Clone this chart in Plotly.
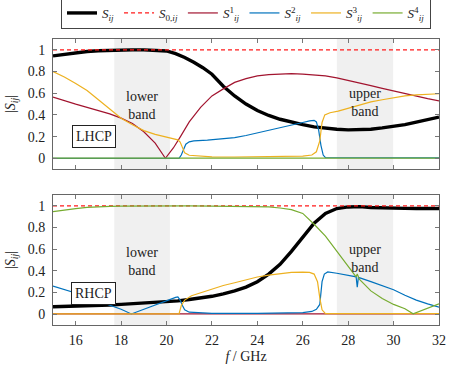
import plotly.graph_objects as go

# ---- LHCP (top panel) ----
f_lh = [15, 15.5, 16, 16.5, 17, 17.5, 18, 18.5, 19, 19.5, 20, 20.4, 20.8, 21.2, 21.6, 22, 22.5, 23, 23.5,
        24, 24.5, 25, 25.5, 26, 26.5, 27, 27.5, 28, 28.5, 29, 29.5, 30, 30.5, 31, 31.5, 32]
s_lh = [0.944, 0.96, 0.975, 0.985, 0.992, 0.997, 1.0, 1.0, 1.0, 0.998, 0.99, 0.965, 0.93, 0.885, 0.835, 0.775,
        0.665, 0.575, 0.5, 0.44, 0.395, 0.36, 0.333, 0.31, 0.29, 0.277, 0.268, 0.262, 0.262, 0.268, 0.28,
        0.295, 0.31, 0.333, 0.355, 0.38]

f1_lh = [15, 15.5, 16, 16.5, 17, 17.5, 18, 18.5, 19, 19.5, 19.95, 20.3, 20.6, 21, 21.5, 22, 22.5, 23, 23.5,
         24, 24.5, 25, 25.5, 26, 26.5, 27, 27.5, 28, 28.5, 29, 29.5, 30, 30.5, 31, 31.5, 32]
s1_lh = [0.565, 0.53, 0.5, 0.47, 0.44, 0.41, 0.37, 0.32, 0.245, 0.14, 0.0, 0.095, 0.195, 0.335, 0.47, 0.575,
         0.64, 0.7, 0.735, 0.76, 0.772, 0.778, 0.78, 0.777, 0.77, 0.76, 0.742, 0.72, 0.695, 0.67, 0.645,
         0.62, 0.6, 0.575, 0.55, 0.53]

f2_lh = [15, 20.55, 20.65, 20.75, 20.85, 21.0, 21.2, 21.8, 22.5, 23, 23.5, 24, 24.5, 25, 25.5, 26, 26.3,
         26.5, 26.6, 26.7, 26.8, 26.9, 27.0, 32]
s2_lh = [0.0, 0.0, 0.03, 0.09, 0.13, 0.152, 0.16, 0.167, 0.178, 0.19, 0.21, 0.233, 0.255, 0.28, 0.305, 0.33,
         0.345, 0.35, 0.335, 0.26, 0.12, 0.03, 0.005, 0.003]

f3_lh = [15, 15.5, 16, 16.5, 17, 17.5, 18, 18.5, 19, 19.5, 20, 20.3, 20.5, 20.6, 20.7, 20.8, 21.0, 21.5, 22,
         23, 24, 25, 26, 26.4, 26.6, 26.75, 26.85, 26.97, 27.2, 27.56, 28, 28.5, 29, 29.5, 30, 30.5, 31,
         31.5, 32]
s3_lh = [0.8, 0.75, 0.69, 0.625, 0.54, 0.455, 0.37, 0.31, 0.255, 0.22, 0.195, 0.18, 0.17, 0.15, 0.09, 0.05,
         0.028, 0.017, 0.013, 0.012, 0.013, 0.015, 0.02, 0.03, 0.06, 0.16, 0.33, 0.4, 0.42, 0.435, 0.46,
         0.49, 0.52, 0.54, 0.56, 0.575, 0.585, 0.59, 0.595]

f4_lh = [15, 32]
s4_lh = [0.002, 0.002]

# ---- RHCP (bottom panel) ----
f_rh = [15, 15.5, 16, 16.5, 17, 17.5, 18, 18.5, 19, 19.5, 20, 20.5, 21, 21.5, 22, 22.5, 23, 23.5, 24, 24.5,
        25, 25.5, 26, 26.5, 27, 27.5, 28, 28.5, 29, 29.5, 30, 30.5, 31, 31.5, 32]
s_rh = [0.068, 0.07, 0.072, 0.076, 0.08, 0.085, 0.09, 0.095, 0.1, 0.107, 0.115, 0.123, 0.135, 0.15, 0.165,
        0.188, 0.215, 0.25, 0.3, 0.37, 0.46, 0.58, 0.71, 0.84, 0.93, 0.975, 0.99, 0.993, 0.985, 0.98, 0.978,
        0.977, 0.976, 0.975, 0.975]

f1_rh = [15, 32]
s1_rh = [0.002, 0.002]

f2_rh = [15, 15.5, 16, 16.5, 17, 17.5, 18, 18.45, 19, 19.5, 20, 20.4, 20.5, 20.6, 20.7, 20.8, 21.0, 21.5,
         22, 24, 25, 26, 26.4, 26.6, 26.75, 26.85, 26.95, 27.1, 27.5, 28, 28.35, 28.4, 28.45, 29, 29.5, 30,
         30.5, 31, 31.5, 32]
s2_rh = [0.26, 0.23, 0.2, 0.163, 0.12, 0.085, 0.045, 0.002, 0.045, 0.09, 0.125, 0.155, 0.16, 0.13, 0.08,
         0.04, 0.018, 0.01, 0.008, 0.008, 0.01, 0.015, 0.025, 0.045, 0.09, 0.3, 0.37, 0.39, 0.378, 0.36,
         0.345, 0.25, 0.34, 0.3, 0.265, 0.225, 0.175, 0.13, 0.095, 0.065]

f3_rh = [15, 20.55, 20.65, 20.8, 21.1, 21.5, 22, 22.5, 23, 23.5, 24, 24.5, 25, 25.5, 26, 26.3, 26.5, 26.65,
         26.75, 26.85, 27.0, 32]
s3_rh = [0.002, 0.002, 0.08, 0.13, 0.17, 0.197, 0.232, 0.265, 0.29, 0.318, 0.343, 0.36, 0.375, 0.385, 0.388,
         0.385, 0.37, 0.3, 0.15, 0.04, 0.005, 0.005]

f4_rh = [15, 15.5, 16, 16.5, 17, 17.5, 18, 19, 20, 21, 22, 23, 24, 24.5, 25, 25.5, 26, 26.5, 27, 27.5, 28,
         28.35, 28.4, 28.45, 28.5, 29, 29.5, 30, 30.5, 30.86, 31.2, 31.5, 32]
s4_rh = [0.947, 0.963, 0.975, 0.985, 0.992, 0.996, 0.998, 1.0, 1.0, 0.999, 0.998, 0.997, 0.995, 0.99, 0.98,
         0.965, 0.93, 0.83, 0.72, 0.58, 0.44, 0.345, 0.37, 0.335, 0.32, 0.215, 0.145, 0.09, 0.05, 0.003,
         0.03, 0.055, 0.095]

bands = [(17.7, 20.15), (27.5, 29.98)]

FONT = "Liberation Serif"
TXT = "#222"
C1 = "#a2142f"
C2 = "#0072bd"
C3 = "#edb120"
C4 = "#77ac30"

fig = go.Figure()

def add_panel(xa, ya, f, s, f1, s1, f2, s2, f3, s3, f4, s4, show):
    fig.add_trace(go.Scatter(x=f, y=s, mode="lines", line=dict(color="black", width=3.4),
                             name="<i>S</i><sub><i>ij</i></sub>", showlegend=show, xaxis=xa, yaxis=ya))
    fig.add_trace(go.Scatter(x=[15, 32], y=[1, 1], mode="lines",
                             line=dict(color="#ff1a1a", width=1.3, dash="4px,3px"),
                             name="<i>S</i><sub>0,<i>ij</i></sub>", showlegend=show, xaxis=xa, yaxis=ya))
    fig.add_trace(go.Scatter(x=f1, y=s1, mode="lines", line=dict(color=C1, width=1.2),
                             name="<i>S</i><sup>1</sup><sub><i>ij</i></sub>", showlegend=show, xaxis=xa, yaxis=ya))
    fig.add_trace(go.Scatter(x=f2, y=s2, mode="lines", line=dict(color=C2, width=1.2),
                             name="<i>S</i><sup>2</sup><sub><i>ij</i></sub>", showlegend=show, xaxis=xa, yaxis=ya))
    fig.add_trace(go.Scatter(x=f3, y=s3, mode="lines", line=dict(color=C3, width=1.2),
                             name="<i>S</i><sup>3</sup><sub><i>ij</i></sub>", showlegend=show, xaxis=xa, yaxis=ya))
    fig.add_trace(go.Scatter(x=f4, y=s4, mode="lines", line=dict(color=C4, width=1.2),
                             name="<i>S</i><sup>4</sup><sub><i>ij</i></sub>", showlegend=show, xaxis=xa, yaxis=ya))

add_panel("x", "y", f_lh, s_lh, f1_lh, s1_lh, f2_lh, s2_lh, f3_lh, s3_lh, f4_lh, s4_lh, True)
add_panel("x2", "y2", f_rh, s_rh, f1_rh, s1_rh, f2_rh, s2_rh, f3_rh, s3_rh, f4_rh, s4_rh, False)

# shaded bands
for xr, yr in [("x", "y"), ("x2", "y2")]:
    for b0, b1 in bands:
        fig.add_shape(type="rect", xref=xr, yref=yr + " domain", x0=b0, x1=b1, y0=0, y1=1,
                      fillcolor="#f0f0f0", line_width=0, layer="below")

# texts
for xr, yr in [("x", "y"), ("x2", "y2")]:
    fig.add_annotation(x=18.93, y=0.49, xref=xr, yref=yr, text="lower<br>band", showarrow=False,
                       font=dict(family=FONT, size=14, color=TXT))
    fig.add_annotation(x=28.74, y=0.51, xref=xr, yref=yr, text="upper<br>band", showarrow=False,
                       font=dict(family=FONT, size=14, color=TXT))
fig.add_annotation(x=16.8, y=0.197, xref="x", yref="y", text="LHCP", showarrow=False,
                   bordercolor=TXT, borderwidth=1, borderpad=3, bgcolor="white",
                   font=dict(family=FONT, size=14, color=TXT))
fig.add_annotation(x=16.8, y=0.194, xref="x2", yref="y2", text="RHCP", showarrow=False,
                   bordercolor=TXT, borderwidth=1, borderpad=3, bgcolor="white",
                   font=dict(family=FONT, size=14, color=TXT))

ax = dict(range=[15, 32], tickvals=[16, 18, 20, 22, 24, 26, 28, 30, 32], ticks="inside", ticklen=4,
          tickcolor="#777", showline=True, linecolor="#666", linewidth=1, mirror="ticks",
          showgrid=False, zeroline=False, tickfont=dict(family=FONT, size=14, color=TXT))
ay = dict(range=[-0.1, 1.1], tickvals=[0, 0.2, 0.4, 0.6, 0.8, 1], ticktext=["0", "0.2", "0.4", "0.6", "0.8", "1"],
          ticks="inside", ticklen=4, tickcolor="#777", showline=True, linecolor="#666", linewidth=1,
          mirror="ticks", showgrid=False, zeroline=False, ticklabelstandoff=4,
          tickfont=dict(family=FONT, size=14, color=TXT),
          title=dict(text="|<i>S</i><sub><i>ij</i></sub>|", standoff=8, font=dict(family=FONT, size=14, color=TXT)))

fig.update_layout(
    width=451, height=369,
    font=dict(family=FONT, size=14, color=TXT),
    margin=dict(l=53, r=12, t=39, b=44, autoexpand=False),
    plot_bgcolor="white", paper_bgcolor="white",
    xaxis=dict(ax, anchor="y", showticklabels=False),
    yaxis=dict(ay, domain=[0.545, 1], anchor="x"),
    xaxis2=dict(ax, anchor="y2", ticklabelstandoff=2,
                title=dict(text="<i>f</i> / GHz", standoff=4, font=dict(family=FONT, size=14, color=TXT))),
    yaxis2=dict(ay, domain=[0, 0.4545], anchor="x2"),
    legend=dict(orientation="h", x=0.5, xanchor="center", y=1.035, yanchor="bottom",
                bordercolor="#444", borderwidth=1, bgcolor="white", itemwidth=30,
                font=dict(family=FONT, size=13, color=TXT)),
    showlegend=True,
)

fig.write_html("out.html", config={"displayModeBar": False},
               post_script="document.body.style.margin='0';")
